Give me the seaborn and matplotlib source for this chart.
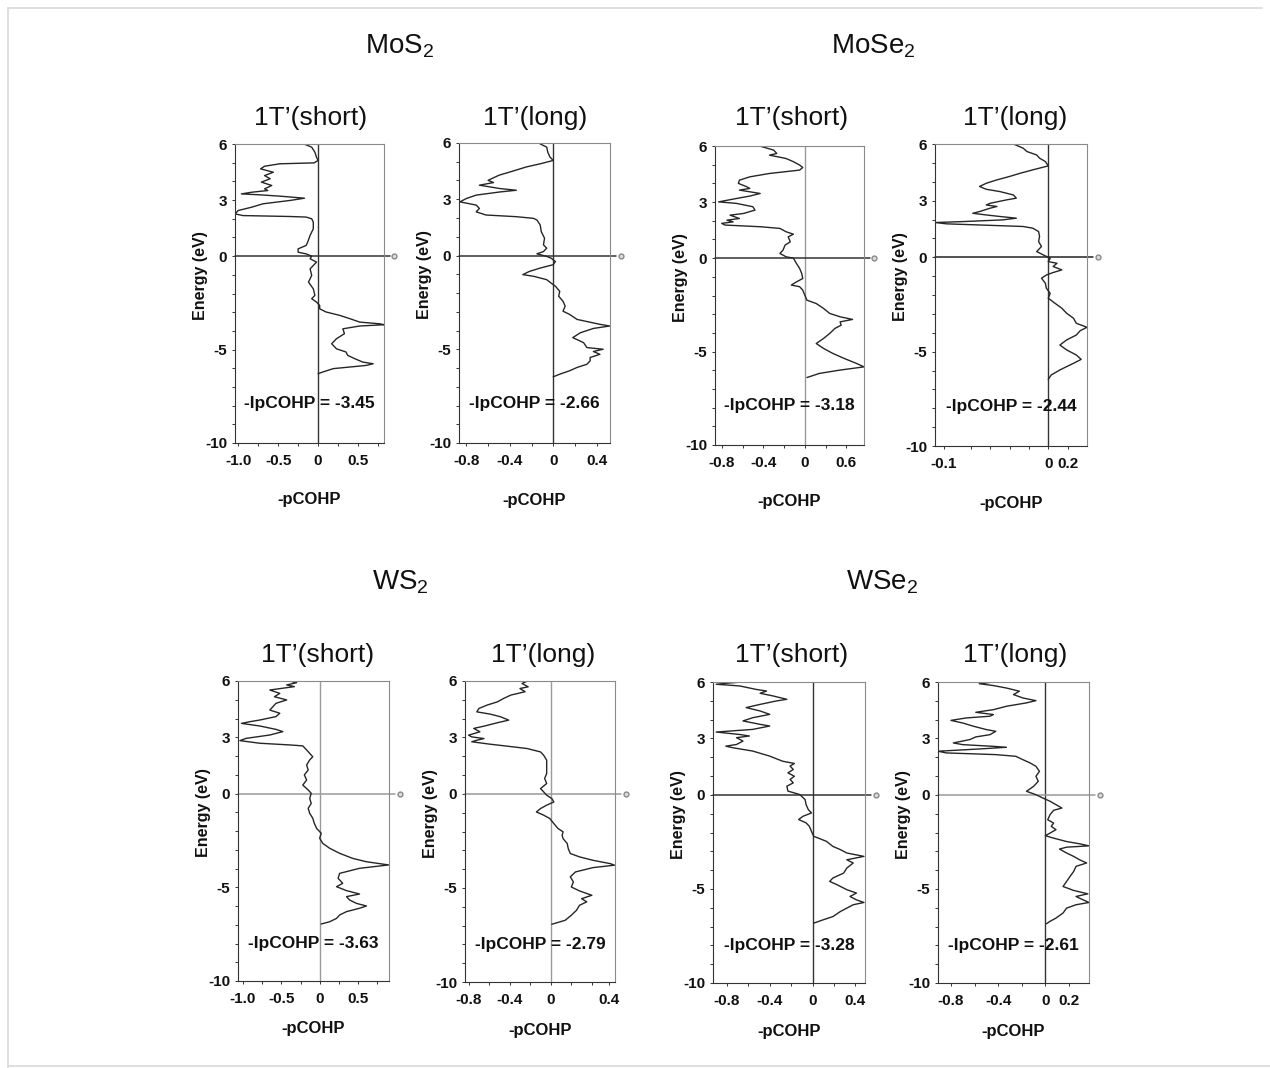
"""
pCOHP panels for the 1T' transition-metal dichalcogenides.
Energy (eV) against -pCOHP for the short and long metal-metal bonds.
"""

import matplotlib
matplotlib.use("Agg")
import matplotlib.pyplot as plt
import matplotlib.transforms as mtransforms
from matplotlib.lines import Line2D
import pandas as pd
import seaborn as sns

# Data: (energy in eV, -pCOHP)

mos2_short = [
    (6.06, -0.21), (5.83, -0.08), (5.56, -0.04), (5.29, -0.02), (5.12, 0.00), (4.99, -0.05),
    (4.94, -0.48), (4.81, -0.67), (4.67, -0.72), (4.49, -0.56), (4.31, -0.67), (4.14, -0.60),
    (3.96, -0.71), (3.78, -0.58), (3.60, -0.67), (3.51, -0.63), (3.42, -0.83), (3.33, -0.96),
    (3.28, -0.73), (3.21, -0.48), (3.10, -0.17), (2.98, -0.35), (2.80, -0.69), (2.62, -0.83),
    (2.44, -1.00), (2.26, -1.04), (2.17, -0.94), (2.12, -0.35), (2.09, -0.15), (2.00, -0.08),
    (1.82, -0.06), (1.46, -0.06), (1.11, -0.10), (0.75, -0.13), (0.57, -0.15), (0.39, -0.25),
    (0.21, -0.25), (0.12, -0.15), (0.00, -0.08), (-0.14, -0.10), (-0.32, -0.02), (-0.68, -0.10),
    (-1.03, -0.08), (-1.39, -0.12), (-1.75, -0.06), (-2.10, -0.04), (-2.28, -0.08), (-2.46, -0.02),
    (-2.64, 0.02), (-2.82, 0.02), (-2.99, 0.10), (-3.17, 0.27), (-3.35, 0.40), (-3.53, 0.52),
    (-3.62, 0.77), (-3.67, 0.83), (-3.74, 0.52), (-3.89, 0.31), (-4.15, 0.33), (-4.42, 0.23),
    (-4.69, 0.17), (-4.96, 0.23), (-5.13, 0.35), (-5.31, 0.37), (-5.49, 0.46), (-5.67, 0.56),
    (-5.76, 0.69), (-5.85, 0.60), (-6.02, 0.19), (-6.20, 0.06), (-6.29, 0.00),
]

mos2_long = [
    (5.95, -0.12), (5.78, -0.06), (5.51, -0.05), (5.25, -0.03), (5.07, 0.00), (4.89, -0.12),
    (4.72, -0.25), (4.54, -0.35), (4.28, -0.50), (4.01, -0.60), (3.89, -0.55), (3.75, -0.68),
    (3.57, -0.49), (3.48, -0.34), (3.39, -0.49), (3.22, -0.71), (3.04, -0.80), (2.86, -0.86),
    (2.69, -0.71), (2.51, -0.68), (2.33, -0.71), (2.16, -0.62), (2.07, -0.34), (1.98, -0.18),
    (1.89, -0.15), (1.63, -0.12), (1.27, -0.11), (0.92, -0.08), (0.57, -0.09), (0.39, -0.06),
    (0.21, -0.09), (0.09, -0.15), (-0.05, -0.06), (-0.14, -0.02), (-0.32, 0.02), (-0.49, 0.00),
    (-0.67, -0.12), (-0.85, -0.22), (-1.02, -0.28), (-1.11, -0.18), (-1.29, -0.06), (-1.47, -0.02),
    (-1.64, 0.02), (-1.91, 0.06), (-2.17, 0.05), (-2.44, 0.09), (-2.70, 0.11), (-2.97, 0.09),
    (-3.14, 0.15), (-3.41, 0.22), (-3.67, 0.43), (-3.76, 0.52), (-3.89, 0.37), (-4.12, 0.25),
    (-4.38, 0.18), (-4.65, 0.28), (-4.91, 0.31), (-5.00, 0.46), (-5.12, 0.37), (-5.27, 0.43),
    (-5.44, 0.34), (-5.62, 0.34), (-5.80, 0.31), (-5.97, 0.22), (-6.15, 0.15), (-6.33, 0.06),
    (-6.47, 0.00),
]

mose2_short = [
    (5.99, -0.43), (5.78, -0.30), (5.60, -0.27), (5.51, -0.34), (5.33, -0.18), (5.16, -0.11),
    (4.98, -0.05), (4.85, -0.02), (4.71, -0.05), (4.53, -0.34), (4.35, -0.53), (4.17, -0.63),
    (4.00, -0.64), (3.82, -0.56), (3.73, -0.53), (3.64, -0.63), (3.46, -0.43), (3.32, -0.53),
    (3.19, -0.66), (3.01, -0.83), (2.93, -0.66), (2.75, -0.50), (2.57, -0.48), (2.39, -0.59),
    (2.30, -0.72), (2.12, -0.63), (2.03, -0.75), (1.94, -0.69), (1.86, -0.80), (1.77, -0.77),
    (1.68, -0.43), (1.59, -0.24), (1.41, -0.18), (1.28, -0.11), (1.14, -0.16), (0.87, -0.14),
    (0.70, -0.19), (0.43, -0.21), (0.25, -0.24), (0.07, -0.18), (0.00, -0.11), (-0.29, -0.08),
    (-0.55, -0.05), (-0.82, -0.03), (-1.09, -0.02), (-1.27, -0.08), (-1.44, -0.13), (-1.53, -0.05),
    (-1.71, -0.02), (-1.98, 0.00), (-2.25, 0.02), (-2.43, 0.11), (-2.69, 0.18), (-2.96, 0.24),
    (-3.14, 0.34), (-3.28, 0.46), (-3.41, 0.34), (-3.59, 0.35), (-3.76, 0.29), (-4.03, 0.24),
    (-4.30, 0.18), (-4.57, 0.11), (-4.83, 0.18), (-5.10, 0.27), (-5.37, 0.38), (-5.64, 0.50),
    (-5.82, 0.57), (-5.99, 0.34), (-6.17, 0.14), (-6.39, 0.02),
]

mose2_long = [
    (6.00, -0.36), (5.78, -0.26), (5.60, -0.22), (5.42, -0.12), (5.25, -0.09), (5.07, -0.03),
    (4.84, 0.00), (4.63, -0.16), (4.45, -0.29), (4.28, -0.40), (4.10, -0.53), (3.92, -0.64),
    (3.75, -0.71), (3.60, -0.64), (3.48, -0.50), (3.30, -0.36), (3.13, -0.33), (3.04, -0.43),
    (2.86, -0.60), (2.77, -0.64), (2.69, -0.53), (2.60, -0.60), (2.42, -0.71), (2.33, -0.78),
    (2.24, -0.64), (2.16, -0.50), (2.07, -0.33), (1.98, -0.47), (1.89, -0.88), (1.84, -1.17),
    (1.77, -1.05), (1.71, -0.71), (1.63, -0.26), (1.54, -0.16), (1.36, -0.10), (1.10, -0.09),
    (0.83, -0.10), (0.57, -0.07), (0.30, -0.12), (0.12, -0.05), (-0.05, 0.02), (-0.23, 0.00),
    (-0.32, 0.09), (-0.49, 0.05), (-0.67, 0.14), (-0.81, 0.05), (-0.94, -0.02), (-1.11, -0.07),
    (-1.38, -0.03), (-1.64, -0.02), (-1.91, 0.02), (-2.17, 0.00), (-2.44, 0.07), (-2.70, 0.14),
    (-2.97, 0.19), (-3.23, 0.26), (-3.50, 0.29), (-3.71, 0.40), (-3.89, 0.33), (-4.12, 0.29),
    (-4.38, 0.19), (-4.65, 0.12), (-4.91, 0.19), (-5.18, 0.29), (-5.41, 0.34), (-5.62, 0.26),
    (-5.97, 0.12), (-6.24, 0.03), (-6.47, 0.00),
]

ws2_short = [
    (6.00, -0.39), (5.91, -0.30), (5.79, -0.43), (5.70, -0.33), (5.52, -0.65), (5.34, -0.52),
    (5.16, -0.59), (4.99, -0.43), (4.81, -0.57), (4.63, -0.61), (4.45, -0.65), (4.28, -0.52),
    (4.10, -0.57), (3.92, -0.78), (3.83, -0.91), (3.74, -1.02), (3.60, -0.78), (3.42, -0.57),
    (3.30, -0.48), (3.12, -0.65), (2.94, -0.96), (2.82, -1.04), (2.68, -0.78), (2.59, -0.39),
    (2.54, -0.22), (2.32, -0.17), (2.14, -0.13), (1.96, -0.09), (1.79, -0.13), (1.52, -0.17),
    (1.25, -0.15), (0.99, -0.20), (0.72, -0.17), (0.45, -0.22), (0.19, -0.15), (0.01, -0.11),
    (-0.26, -0.13), (-0.53, -0.11), (-0.79, -0.15), (-1.06, -0.13), (-1.32, -0.09), (-1.59, -0.07),
    (-1.86, -0.04), (-2.12, 0.02), (-2.39, 0.00), (-2.66, 0.04), (-2.92, 0.13), (-3.19, 0.26),
    (-3.46, 0.43), (-3.64, 0.61), (-3.81, 0.90), (-3.99, 0.52), (-4.26, 0.26), (-4.52, 0.24),
    (-4.79, 0.30), (-4.97, 0.22), (-5.18, 0.35), (-5.36, 0.52), (-5.50, 0.35), (-5.68, 0.39),
    (-5.86, 0.48), (-6.00, 0.61), (-6.12, 0.52), (-6.30, 0.35), (-6.48, 0.26), (-6.66, 0.22),
    (-6.84, 0.13), (-6.96, 0.02),
]

ws2_long = [
    (5.99, -0.23), (5.87, -0.28), (5.69, -0.22), (5.60, -0.30), (5.43, -0.25), (5.25, -0.39),
    (5.07, -0.46), (4.89, -0.52), (4.72, -0.62), (4.54, -0.70), (4.36, -0.72), (4.24, -0.59),
    (4.10, -0.49), (3.92, -0.41), (3.78, -0.52), (3.60, -0.65), (3.48, -0.75), (3.30, -0.69),
    (3.12, -0.80), (3.03, -0.77), (2.94, -0.65), (2.85, -0.72), (2.77, -0.77), (2.64, -0.59),
    (2.54, -0.43), (2.41, -0.23), (2.23, -0.10), (2.06, -0.07), (1.79, -0.04), (1.44, -0.04),
    (1.08, -0.04), (0.82, -0.06), (0.55, -0.04), (0.28, -0.10), (0.11, -0.07), (-0.07, -0.04),
    (-0.25, 0.01), (-0.43, 0.03), (-0.60, -0.04), (-0.78, -0.10), (-0.96, -0.14), (-1.13, -0.07),
    (-1.31, -0.01), (-1.58, 0.03), (-1.84, 0.07), (-2.02, 0.12), (-2.20, 0.11), (-2.38, 0.12),
    (-2.64, 0.16), (-2.91, 0.17), (-3.17, 0.19), (-3.35, 0.28), (-3.53, 0.41), (-3.71, 0.58),
    (-3.79, 0.62), (-3.92, 0.41), (-4.15, 0.24), (-4.41, 0.19), (-4.68, 0.22), (-4.95, 0.20),
    (-5.16, 0.28), (-5.39, 0.40), (-5.57, 0.30), (-5.74, 0.35), (-5.92, 0.28), (-6.19, 0.25),
    (-6.45, 0.20), (-6.72, 0.14), (-6.93, 0.01),
]

wse2_short = [
    (6.02, -0.62), (5.93, -0.81), (5.88, -0.90), (5.79, -0.68), (5.61, -0.53), (5.52, -0.43),
    (5.40, -0.49), (5.26, -0.37), (5.08, -0.24), (4.99, -0.34), (4.81, -0.49), (4.64, -0.62),
    (4.46, -0.49), (4.28, -0.40), (4.10, -0.56), (3.93, -0.65), (3.75, -0.49), (3.66, -0.40),
    (3.48, -0.56), (3.34, -0.90), (3.21, -0.68), (3.13, -0.59), (3.04, -0.71), (2.86, -0.65),
    (2.68, -0.71), (2.59, -0.81), (2.50, -0.74), (2.33, -0.56), (2.06, -0.40), (1.79, -0.28),
    (1.67, -0.17), (1.53, -0.21), (1.35, -0.18), (1.17, -0.23), (0.99, -0.17), (0.82, -0.21),
    (0.64, -0.18), (0.46, -0.24), (0.20, -0.23), (0.02, -0.12), (-0.25, -0.07), (-0.52, -0.06),
    (-0.78, -0.04), (-0.96, -0.01), (-1.14, -0.09), (-1.31, -0.13), (-1.49, -0.06), (-1.67, -0.03),
    (-1.94, -0.01), (-2.20, 0.01), (-2.47, 0.13), (-2.74, 0.19), (-2.91, 0.26), (-3.09, 0.32),
    (-3.27, 0.48), (-3.45, 0.32), (-3.62, 0.38), (-3.89, 0.32), (-4.16, 0.29), (-4.42, 0.19),
    (-4.60, 0.16), (-4.78, 0.23), (-5.04, 0.32), (-5.22, 0.41), (-5.40, 0.35), (-5.58, 0.41),
    (-5.72, 0.48), (-5.84, 0.38), (-6.02, 0.32), (-6.20, 0.26), (-6.47, 0.19), (-6.64, 0.10),
    (-6.82, 0.01),
]

wse2_long = [
    (6.00, -0.44), (5.91, -0.56), (5.81, -0.44), (5.68, -0.33), (5.51, -0.22), (5.33, -0.27),
    (5.15, -0.19), (5.01, -0.08), (4.89, -0.16), (4.71, -0.33), (4.53, -0.44), (4.39, -0.59),
    (4.27, -0.44), (4.18, -0.47), (4.09, -0.67), (3.96, -0.80), (3.82, -0.70), (3.65, -0.61),
    (3.47, -0.50), (3.38, -0.42), (3.20, -0.47), (3.08, -0.59), (2.94, -0.64), (2.76, -0.78),
    (2.67, -0.70), (2.58, -0.44), (2.53, -0.33), (2.44, -0.56), (2.32, -0.91), (2.23, -0.84),
    (2.14, -0.42), (2.05, -0.25), (1.87, -0.19), (1.70, -0.13), (1.52, -0.08), (1.25, -0.05),
    (0.99, -0.08), (0.72, -0.06), (0.45, -0.10), (0.19, -0.16), (0.01, -0.08), (-0.17, -0.02),
    (-0.34, 0.04), (-0.52, 0.09), (-0.70, 0.14), (-0.82, 0.07), (-1.05, 0.04), (-1.32, 0.02),
    (-1.50, 0.07), (-1.67, 0.05), (-1.85, 0.09), (-2.03, 0.04), (-2.17, 0.00), (-2.30, 0.07),
    (-2.48, 0.18), (-2.60, 0.29), (-2.71, 0.37), (-2.78, 0.18), (-2.88, 0.12), (-3.09, 0.18),
    (-3.27, 0.24), (-3.45, 0.29), (-3.62, 0.35), (-3.80, 0.26), (-4.07, 0.24), (-4.33, 0.21),
    (-4.60, 0.18), (-4.87, 0.15), (-5.08, 0.24), (-5.26, 0.36), (-5.40, 0.26), (-5.58, 0.32),
    (-5.72, 0.37), (-5.84, 0.26), (-6.02, 0.18), (-6.28, 0.15), (-6.55, 0.09), (-6.72, 0.04),
    (-6.85, 0.01),
]

compounds = ["MoS$_\\mathregular{2}$", "MoSe$_\\mathregular{2}$", "WS$_\\mathregular{2}$", "WSe$_\\mathregular{2}$"]
bond_titles = ["1T\u2019(short)", "1T\u2019(long)"] * 4
curves = [mos2_short, mos2_long, mose2_short, mose2_long,
          ws2_short, ws2_long, wse2_short, wse2_long]
ipcohp = [-3.45, -2.66, -3.18, -2.44, -3.63, -2.79, -3.28, -2.61]

# x-axis limits and tick labels, as printed on each panel
x_limits = [(-1.04, 0.825), (-0.868, 0.523), (-0.865, 0.57), (-1.17, 0.40),
            (-1.065, 0.904), (-0.835, 0.625), (-0.93, 0.49), (-0.91, 0.37)]
x_ticks = [
    [-1.0, -0.75, -0.5, -0.25, 0, 0.25, 0.5, 0.75],
    [-0.8, -0.6, -0.4, -0.2, 0, 0.2, 0.4],
    [-0.8, -0.6, -0.4, -0.2, 0, 0.2, 0.4],
    [-1.08, -0.8, -0.6, -0.4, -0.2, 0, 0.2],
    [-1.0, -0.75, -0.5, -0.25, 0, 0.25, 0.5, 0.75],
    [-0.8, -0.6, -0.4, -0.2, 0, 0.2, 0.4, 0.57],
    [-0.8, -0.6, -0.4, -0.2, 0, 0.2, 0.4],
    [-0.8, -0.6, -0.4, -0.2, 0, 0.2],
]
x_ticklabels = [
    ["-1.0", "", "-0.5", "", "0", "", "0.5", ""],
    ["-0.8", "", "-0.4", "", "0", "", "0.4"],
    ["-0.8", "", "-0.4", "", "0", "", "0.6"],
    ["-0.1", "", "", "", "", "0", "0.2"],
    ["-1.0", "", "-0.5", "", "0", "", "0.5", ""],
    ["-0.8", "", "-0.4", "", "0", "", "", "0.4"],
    ["-0.8", "", "-0.4", "", "0", "", "0.4"],
    ["-0.8", "", "-0.4", "", "0", "0.2"],
]
y_ticks = list(range(-10, 7))
y_labelled = [6, 3, 0, -5, -10]

# Layout (pixel boxes: left, top, right, bottom)
W, H = 1270, 1068
AXES_PX = [(235, 144, 384, 443), (459, 143, 610, 443), (715, 146, 864, 445), (935, 144, 1087, 446),
           (238, 681, 389, 981), (465, 681, 615, 982), (713, 682, 865, 983), (938, 682, 1089, 983)]
TITLE_PX = [(311, 125), (535, 125), (792, 125), (1015, 125),
            (318, 662), (543, 662), (792, 662), (1015, 662)]
GROUP_PX = [(400, 53), (873, 53), (400, 589), (882, 589)]
VLINE_C = ["#333333", "#333333", "#9a9a9a", "#333333", "#9a9a9a", "#9a9a9a", "#333333", "#333333"]
HLINE_C = ["#333333", "#333333", "#333333", "#222222", "#9a9a9a", "#9a9a9a", "#333333", "#9a9a9a"]

CURVE = "#262626"
TEXT = "#111111"

sns.set_theme(style="ticks")
plt.rcParams.update({
    "font.family": ["Liberation Sans", "DejaVu Sans"],
    "mathtext.fontset": "custom",
    "mathtext.rm": "Liberation Sans",
    "text.color": TEXT,
    "axes.labelcolor": TEXT,
    "xtick.color": "#333333",
    "ytick.color": "#333333",
    "xtick.labelcolor": TEXT,
    "ytick.labelcolor": TEXT,
    "xtick.major.size": 2.5,
    "ytick.major.size": 2.5,
    "xtick.major.width": 0.7,
    "ytick.major.width": 0.7,
    "axes.linewidth": 0.8,
})

fig = plt.figure(figsize=(W / 100, H / 100), dpi=100)
fig.patch.set_facecolor("white")

for i, pairs in enumerate(curves):
    l, t, r, b = AXES_PX[i]
    ax = fig.add_axes([l / W, 1 - b / H, (r - l) / W, (b - t) / H])
    df = pd.DataFrame(pairs, columns=["energy", "pcohp"])
    sns.lineplot(data=df, x="pcohp", y="energy", sort=False, estimator=None,
                 color=CURVE, linewidth=1.0, ax=ax)

    trans = mtransforms.blended_transform_factory(ax.transAxes, ax.transData)
    ax.axvline(0, color=VLINE_C[i], linewidth=1.0, zorder=1)
    ax.plot([0, 1.04], [0, 0], transform=trans, color=HLINE_C[i], linewidth=1.1,
            clip_on=False, zorder=1)
    ax.plot([1.07], [0], transform=trans, marker="o", markersize=3.5, color="#888888",
            markerfacecolor="#dddddd", clip_on=False)

    ax.set_xlim(*x_limits[i])
    ax.set_ylim(-10, 6)
    ax.set_yticks(y_ticks)
    ax.set_yticklabels([str(v) if v in y_labelled else "" for v in y_ticks])
    ax.set_xticks(x_ticks[i])
    ax.set_xticklabels(x_ticklabels[i])
    ax.tick_params(axis="x", labelsize=11, pad=5.5)
    ax.tick_params(axis="y", labelsize=11, pad=3)
    for lab in ax.get_xticklabels() + ax.get_yticklabels():
        lab.set_fontweight("bold")

    for side in ["left", "bottom"]:
        ax.spines[side].set_color("#333333")
    for side in ["top", "right"]:
        ax.spines[side].set_color("#8a8a8a")

    ax.set_xlabel("-pCOHP", fontsize=12, fontweight="bold")
    ax.xaxis.set_label_coords(0.5, -0.165 if i < 4 else -0.135)
    ax.set_ylabel("Energy (eV)", fontsize=11.5, fontweight="bold")
    ax.yaxis.set_label_coords(-0.18, 0.56)

    ax.text(0.5, -7.9 if i < 4 else -8.0, f"-IpCOHP = {ipcohp[i]:.2f}", transform=trans,
            ha="center", va="center", fontsize=12.5, fontweight="bold", color=TEXT)

    tx, ty = TITLE_PX[i]
    fig.text(tx / W, 1 - ty / H, bond_titles[i], ha="center", va="baseline", fontsize=19)

for (gx, gy), name in zip(GROUP_PX, compounds):
    fig.text(gx / W, 1 - gy / H, name, ha="center", va="baseline", fontsize=20)

# thin light frame around the figure
frame = dict(transform=fig.transFigure, color="#dcdcdc", linewidth=1.3)
fig.add_artist(Line2D([8 / W, 1262 / W], [1 - 8 / H, 1 - 8 / H], **frame))
fig.add_artist(Line2D([8 / W, 8 / W], [1 - 8 / H, 0], **frame))
fig.add_artist(Line2D([8 / W, 1], [1 - 1066 / H, 1 - 1066 / H], **frame))

fig.savefig("out.png", dpi=100, facecolor="white")
